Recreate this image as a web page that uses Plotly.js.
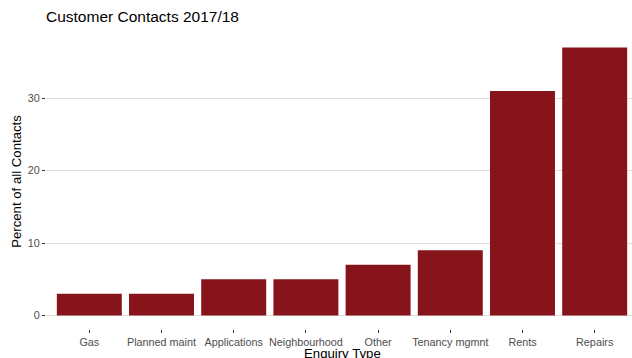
<!DOCTYPE html>
<html>
<head>
<meta charset="utf-8">
<script src="https://cdn.plot.ly/plotly-3.0.1.min.js"></script>
<style>
html,body{margin:0;padding:0;overflow:hidden;background:#fff;}
#chart{width:638px;height:372px;}
</style>
</head>
<body>
<div id="chart"></div>
<script>
const categories = ["Gas", "Planned maint", "Applications", "Neighbourhood", "Other", "Tenancy mgmnt", "Rents", "Repairs"];
const percentValues = [3, 3, 5, 5, 7, 9, 31, 37];
const yTickValues = [0, 10, 20, 30];
const xTitle = "Enquiry Type";

const trace = {
  type: "bar",
  x: categories,
  y: percentValues,
  width: 0.9,
  marker: {color: "#86141A"},
  hoverinfo: "x+y"
};

const layout = {
  width: 638,
  height: 372,
  margin: {l: 46, r: 0, t: 34, b: 43, pad: 0},
  paper_bgcolor: "#fff",
  plot_bgcolor: "#fff",
  font: {family: "Liberation Sans, Arial, sans-serif", size: 10, color: "#4D4D4D"},
  title: {
    text: "Customer Contacts 2017/18",
    x: 0, xref: "paper", xanchor: "left",
    y: 1, yref: "container", yanchor: "top", pad: {t: 11},
    font: {size: 15.5, color: "#000"}
  },
  showlegend: false,
  bargap: 0.1,
  xaxis: {
    type: "category",
    range: [-0.6, 7.6],
    showgrid: false,
    zeroline: false,
    showline: false,
    ticks: "outside",
    ticklen: 3,
    tickwidth: 1,
    tickcolor: "#333",
    tickfont: {size: 10.8, color: "#4D4D4D"},
    automargin: false
  },
  yaxis: {
    range: [-1.85, 38.85],
    tickvals: yTickValues,
    ticktext: yTickValues.map(String),
    showgrid: true,
    gridcolor: "#DEDEDE",
    gridwidth: 1,
    zeroline: false,
    showline: false,
    ticks: "outside",
    ticklen: 3,
    tickwidth: 1,
    tickcolor: "#333",
    tickfont: {size: 10.8, color: "#4D4D4D"},
    title: {text: "Percent of all Contacts", font: {size: 13.2, color: "#000"}, standoff: 3},
    automargin: false
  },
  annotations: [{
    text: xTitle,
    xref: "paper", x: 0.5, xanchor: "center",
    yref: "paper", y: 0, yanchor: "top", yshift: -15,
    showarrow: false,
    font: {size: 13.2, color: "#000"}
  }]
};

Plotly.newPlot("chart", [trace], layout, {displayModeBar: false, staticPlot: true});
</script>
</body>
</html>
